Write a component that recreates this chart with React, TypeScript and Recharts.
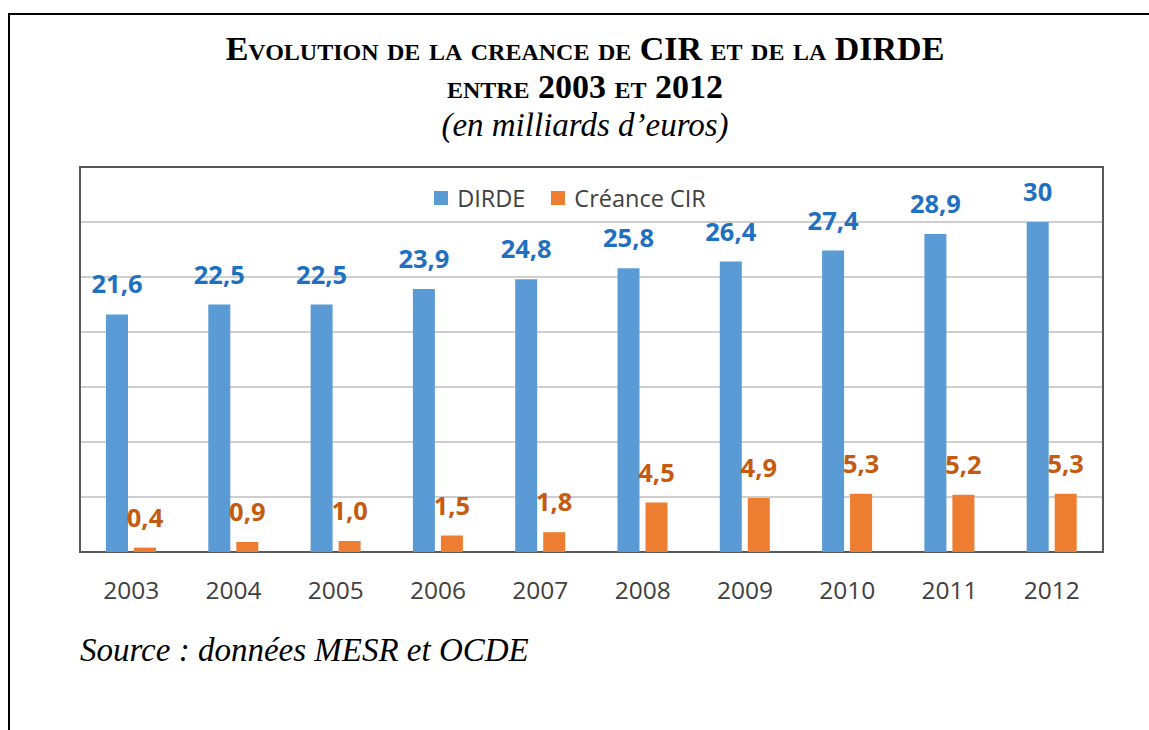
import { BarChart, Bar, XAxis, YAxis, CartesianGrid, LabelList, ReferenceArea } from 'recharts';

const years = ['2003', '2004', '2005', '2006', '2007', '2008', '2009', '2010', '2011', '2012'];
const dirde = [21.6, 22.5, 22.5, 23.9, 24.8, 25.8, 26.4, 27.4, 28.9, 30];
const cir = [0.4, 0.9, 1.0, 1.5, 1.8, 4.5, 4.9, 5.3, 5.2, 5.3];
const yTicks = [0, 5, 10, 15, 20, 25, 30, 35];

const series = [
  { key: 'dirde', name: 'DIRDE', color: '#5B9BD5', labelColor: '#1F70C1' },
  { key: 'cir', name: 'Créance CIR', color: '#ED7D31', labelColor: '#C55A11' },
];

const data = years.map((y, i) => ({ year: y, dirde: dirde[i], cir: cir[i] }));

const fmt = (v: number) => (Number.isInteger(v) && v >= 10 ? String(v) : v.toFixed(1).replace('.', ','));

const sans = '"Open Sans", "Noto Sans", sans-serif';
const serif = '"Liberation Serif", "Times New Roman", serif';

function YearTick({ x, y, payload }: any) {
  return (
    <text x={x} y={y + 47} textAnchor="middle" fontSize={24.5} fill="#404040" fontFamily={sans}>
      {payload.value}
    </text>
  );
}

export default function App() {
  return (
    <div style={{ position: 'absolute', left: 0, top: 0, width: 1149, height: 730, background: '#fff', overflow: 'hidden' }}>
      {/* page frame */}
      <div style={{ position: 'absolute', left: 8, top: 13, width: 1141, height: 2, background: '#000' }} />
      <div style={{ position: 'absolute', left: 8, top: 13, width: 2, height: 717, background: '#000' }} />

      <div style={{ position: 'absolute', left: 0, top: 30, width: 1170, textAlign: 'center', fontFamily: serif, color: '#000', lineHeight: '38px' }}>
        <div style={{ fontWeight: 'bold', fontVariant: 'small-caps', fontSize: 34 }}>Evolution de la creance de CIR et de la DIRDE</div>
        <div style={{ fontWeight: 'bold', fontVariant: 'small-caps', fontSize: 34 }}>entre 2003 et 2012</div>
        <div style={{ fontStyle: 'italic', fontSize: 33 }}>(en milliards d’euros)</div>
      </div>

      <BarChart
        width={1149}
        height={730}
        data={data}
        margin={{ top: 167, right: 46, left: 80, bottom: 138 }}
        barSize={22}
        barGap={6}
        style={{ position: 'absolute', left: 0, top: 0 }}
      >
        <CartesianGrid vertical={false} stroke="#BFBFBF" strokeWidth={1.5} />
        <XAxis dataKey="year" height={40} axisLine={false} tickLine={false} tickSize={0} tickMargin={0} tick={<YearTick />} interval={0} />
        <YAxis hide domain={[0, 35]} ticks={yTicks} />
        {series.map((s) => (
          <Bar key={s.key} dataKey={s.key} name={s.name} fill={s.color} isAnimationActive={false}>
            <LabelList
              dataKey={s.key}
              position="top"
              offset={21}
              formatter={(v: any) => fmt(Number(v))}
              style={{ fontSize: 25.5, fontWeight: 700, fill: s.labelColor, fontFamily: sans }}
            />
          </Bar>
        ))}
        <ReferenceArea y1={0} y2={35} fill="none" stroke="#595959" strokeWidth={2} ifOverflow="visible" />
      </BarChart>

      {/* legend inside the plot area */}
      <div style={{ position: 'absolute', left: 0, top: 182, width: 1140, display: 'flex', justifyContent: 'center', fontFamily: sans, fontSize: 23.5, color: '#404040' }}>
        {series.map((s) => (
          <div key={s.key} style={{ display: 'flex', alignItems: 'center', margin: '0 13px' }}>
            <span style={{ display: 'inline-block', width: 14, height: 14, background: s.color, marginRight: 9 }} />
            <span>{s.name}</span>
          </div>
        ))}
      </div>

      <div style={{ position: 'absolute', left: 80, top: 632, fontFamily: serif, fontStyle: 'italic', fontSize: 33, color: '#000' }}>
        Source : données MESR et OCDE
      </div>
    </div>
  );
}
